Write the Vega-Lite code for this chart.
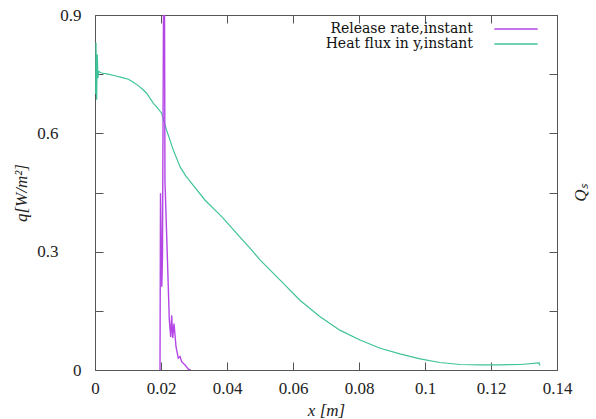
{
  "$schema": "https://vega.github.io/schema/vega-lite/v6.json",
  "width": 462,
  "height": 355,
  "autosize": {"type": "none"},
  "padding": {"left": 95, "top": 15, "right": 39, "bottom": 49},
  "background": "white",
  "config": {
    "font": "Liberation Serif",
    "view": {"stroke": null},
    "axis": {
      "domainColor": "#555555",
      "tickColor": "#555555",
      "labelColor": "#222222",
      "titleColor": "#222222",
      "labelFontSize": 17,
      "titleFontSize": 17,
      "titleFontWeight": "normal",
      "grid": false
    }
  },
  "data": {
    "values": [
      {"x": 0.0002, "q": 0.70, "series": "Heat flux in y,instant"},
      {"x": 0.0003, "q": 0.83, "series": "Heat flux in y,instant"},
      {"x": 0.0005, "q": 0.685, "series": "Heat flux in y,instant"},
      {"x": 0.0007, "q": 0.80, "series": "Heat flux in y,instant"},
      {"x": 0.0009, "q": 0.74, "series": "Heat flux in y,instant"},
      {"x": 0.0011, "q": 0.757, "series": "Heat flux in y,instant"},
      {"x": 0.002, "q": 0.753, "series": "Heat flux in y,instant"},
      {"x": 0.004, "q": 0.750, "series": "Heat flux in y,instant"},
      {"x": 0.006, "q": 0.746, "series": "Heat flux in y,instant"},
      {"x": 0.008, "q": 0.742, "series": "Heat flux in y,instant"},
      {"x": 0.0101, "q": 0.737, "series": "Heat flux in y,instant"},
      {"x": 0.0115, "q": 0.730, "series": "Heat flux in y,instant"},
      {"x": 0.0131, "q": 0.721, "series": "Heat flux in y,instant"},
      {"x": 0.0145, "q": 0.711, "series": "Heat flux in y,instant"},
      {"x": 0.0157, "q": 0.701, "series": "Heat flux in y,instant"},
      {"x": 0.0177, "q": 0.676, "series": "Heat flux in y,instant"},
      {"x": 0.0190, "q": 0.664, "series": "Heat flux in y,instant"},
      {"x": 0.0202, "q": 0.651, "series": "Heat flux in y,instant"},
      {"x": 0.0217, "q": 0.608, "series": "Heat flux in y,instant"},
      {"x": 0.0237, "q": 0.558, "series": "Heat flux in y,instant"},
      {"x": 0.0258, "q": 0.515, "series": "Heat flux in y,instant"},
      {"x": 0.0275, "q": 0.492, "series": "Heat flux in y,instant"},
      {"x": 0.0293, "q": 0.473, "series": "Heat flux in y,instant"},
      {"x": 0.0333, "q": 0.431, "series": "Heat flux in y,instant"},
      {"x": 0.0384, "q": 0.389, "series": "Heat flux in y,instant"},
      {"x": 0.0434, "q": 0.342, "series": "Heat flux in y,instant"},
      {"x": 0.0475, "q": 0.304, "series": "Heat flux in y,instant"},
      {"x": 0.0500, "q": 0.279, "series": "Heat flux in y,instant"},
      {"x": 0.0561, "q": 0.228, "series": "Heat flux in y,instant"},
      {"x": 0.0621, "q": 0.177, "series": "Heat flux in y,instant"},
      {"x": 0.0682, "q": 0.135, "series": "Heat flux in y,instant"},
      {"x": 0.0742, "q": 0.101, "series": "Heat flux in y,instant"},
      {"x": 0.0803, "q": 0.076, "series": "Heat flux in y,instant"},
      {"x": 0.0864, "q": 0.055, "series": "Heat flux in y,instant"},
      {"x": 0.0924, "q": 0.041, "series": "Heat flux in y,instant"},
      {"x": 0.0985, "q": 0.028, "series": "Heat flux in y,instant"},
      {"x": 0.1045, "q": 0.019, "series": "Heat flux in y,instant"},
      {"x": 0.1106, "q": 0.014, "series": "Heat flux in y,instant"},
      {"x": 0.1167, "q": 0.013, "series": "Heat flux in y,instant"},
      {"x": 0.1227, "q": 0.013, "series": "Heat flux in y,instant"},
      {"x": 0.1288, "q": 0.014, "series": "Heat flux in y,instant"},
      {"x": 0.1346, "q": 0.018, "series": "Heat flux in y,instant"},
      {"x": 0.1348, "q": 0.011, "series": "Heat flux in y,instant"},
      {"x": 0.01970, "q": 0.0, "series": "Release rate,instant"},
      {"x": 0.01985, "q": 0.448, "series": "Release rate,instant"},
      {"x": 0.02025, "q": 0.211, "series": "Release rate,instant"},
      {"x": 0.02045, "q": 0.292, "series": "Release rate,instant"},
      {"x": 0.02095, "q": 1.3, "series": "Release rate,instant"},
      {"x": 0.02120, "q": 0.48, "series": "Release rate,instant"},
      {"x": 0.02252, "q": 0.127, "series": "Release rate,instant"},
      {"x": 0.02294, "q": 0.084, "series": "Release rate,instant"},
      {"x": 0.02324, "q": 0.139, "series": "Release rate,instant"},
      {"x": 0.02355, "q": 0.081, "series": "Release rate,instant"},
      {"x": 0.02394, "q": 0.118, "series": "Release rate,instant"},
      {"x": 0.02455, "q": 0.059, "series": "Release rate,instant"},
      {"x": 0.02524, "q": 0.030, "series": "Release rate,instant"},
      {"x": 0.02576, "q": 0.034, "series": "Release rate,instant"},
      {"x": 0.02627, "q": 0.021, "series": "Release rate,instant"},
      {"x": 0.02727, "q": 0.013, "series": "Release rate,instant"},
      {"x": 0.02827, "q": 0.002, "series": "Release rate,instant"},
      {"x": 0.0290, "q": 0.0, "series": "Release rate,instant"}
    ]
  },
  "layer": [
    {
      "transform": [{"filter": "datum.series == 'Heat flux in y,instant'"}],
      "mark": {"type": "line", "strokeWidth": 1.2, "clip": true},
      "encoding": {
        "x": {
          "field": "x", "type": "quantitative",
          "scale": {"domain": [0, 0.14], "nice": false, "zero": false},
          "axis": {
            "orient": "bottom",
            "values": [0, 0.02, 0.04, 0.06, 0.08, 0.1, 0.12, 0.14],
            "format": "~g",
            "tickSize": -8,
            "labelPadding": 18,
            "labelFlush": false,
            "title": "x [m]",
            "titleFontStyle": "italic",
            "titlePadding": 6
          }
        },
        "y": {
          "field": "q", "type": "quantitative",
          "scale": {"domain": [0, 0.9], "nice": false, "zero": false},
          "axis": {
            "orient": "left",
            "values": [0, 0.15, 0.3, 0.45, 0.6, 0.75, 0.9],
            "format": "~g",
            "labelExpr": "datum.value == 0 || datum.value == 0.9 ? datum.label : ''",
            "tickSize": -8,
            "labelPadding": 22,
            "labelBaseline": "middle",
            "title": null
          }
        },
        "color": {
          "field": "series", "type": "nominal",
          "scale": {"domain": ["Release rate,instant", "Heat flux in y,instant"], "range": ["#b446e6", "#3ec39b"]},
          "legend": {
            "orient": "none", "legendX": 414, "legendY": 7,
            "title": null, "padding": 0,
            "symbolType": "M-5,0H5", "symbolSize": 75, "symbolStrokeWidth": 1.5,
            "symbolFillColor": "transparent",
            "labelAlign": "right", "labelOffset": -50,
            "labelFont": "DejaVu Serif",
            "labelFontSize": 14, "labelLimit": 300, "labelColor": "#111111",
            "rowPadding": 1
          }
        }
      }
    },
    {
      "transform": [{"filter": "datum.series == 'Release rate,instant'"}],
      "mark": {"type": "line", "strokeWidth": 1.4, "clip": true},
      "encoding": {
        "x": {
          "field": "x", "type": "quantitative",
          "scale": {"domain": [0, 0.14], "nice": false, "zero": false},
          "axis": {
            "orient": "top",
            "values": [0, 0.02, 0.04, 0.06, 0.08, 0.1, 0.12, 0.14],
            "tickSize": -8,
            "labels": false,
            "title": null
          }
        },
        "y": {
          "field": "q", "type": "quantitative",
          "scale": {"domain": [0, 0.9], "nice": false, "zero": false},
          "axis": {
            "orient": "right",
            "values": [0, 0.15, 0.3, 0.45, 0.6, 0.75, 0.9],
            "tickSize": -8,
            "labels": false,
            "title": "Qₛ",
            "titleFontStyle": "italic",
            "titleAngle": 270,
            "titlePadding": 32
          }
        },
        "color": {
          "field": "series", "type": "nominal",
          "scale": {"domain": ["Release rate,instant", "Heat flux in y,instant"], "range": ["#b446e6", "#3ec39b"]},
          "legend": {
            "orient": "none", "legendX": 414, "legendY": 7,
            "title": null, "padding": 0,
            "symbolType": "M-5,0H5", "symbolSize": 75, "symbolStrokeWidth": 1.5,
            "symbolFillColor": "transparent",
            "labelAlign": "right", "labelOffset": -50,
            "labelFont": "DejaVu Serif",
            "labelFontSize": 14, "labelLimit": 300, "labelColor": "#111111",
            "rowPadding": 1
          }
        }
      }
    },
    {
      "transform": [{"filter": "datum.series == 'Heat flux in y,instant'"}],
      "mark": {"type": "line", "strokeOpacity": 0},
      "encoding": {
        "x": {
          "field": "x", "type": "quantitative",
          "scale": {"domain": [0, 0.14], "nice": false, "zero": false},
          "axis": null
        },
        "y": {
          "field": "q", "type": "quantitative",
          "scale": {"domain": [0, 0.9], "nice": false, "zero": false},
          "axis": {
            "orient": "left",
            "values": [0.3, 0.6],
            "format": "~g",
            "ticks": false,
            "tickSize": 0,
            "domain": false,
            "labelPadding": 37,
            "labelBaseline": "middle",
            "title": "q[W/m²]",
            "titleFontStyle": "italic",
            "titlePadding": 6
          }
        }
      }
    }
  ],
  "resolve": {"axis": {"x": "independent", "y": "independent"}}
}
